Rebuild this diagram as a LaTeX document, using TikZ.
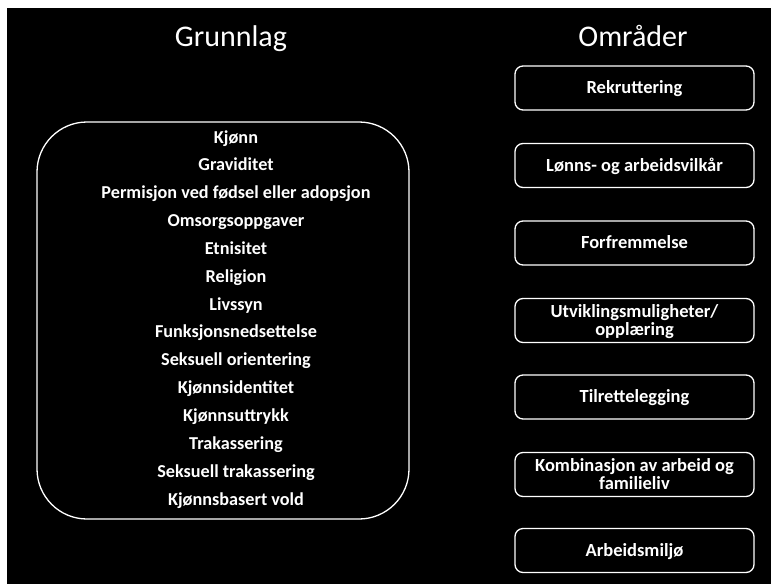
\documentclass[tikz,border=0pt]{standalone}
\usepackage{fontspec}
\setmainfont{Carlito}
\begin{document}
\begin{tikzpicture}[x=1pt,y=-1pt,
  title/.style={text=white, font=\fontsize{30}{36}\selectfont, anchor=base, inner sep=0pt},
  item/.style={text=white, font=\bfseries\fontsize{18.2}{21}\selectfont, anchor=base, inner sep=0pt},
  bigbox/.style={draw=white, line width=1.3pt, rounded corners=50pt, minimum width=372pt, minimum height=397pt, inner sep=0pt},
  areabox/.style={draw=white, line width=1.3pt, rounded corners=8pt, minimum width=239pt, minimum height=44pt,
    text=white, font=\bfseries\fontsize{18.5}{18}\selectfont, align=center, text height=11.9pt, text depth=0pt, inner sep=0pt},
  twoline/.style={text height=29.9pt}]
\useasboundingbox (0,0) rectangle (771,584);
\fill[white] (0,0) rectangle (771,584);
\fill[black] (7,8) rectangle (771,584);
\node[title] (tg) at (231,46) {Grunnlag};
\node[title] (to) at (633,46) {Områder};
\node[bigbox] (box) at (223,320.5) {};
\foreach \t [count=\i] in {Kjønn, Graviditet, Permisjon ved fødsel eller adopsjon, Omsorgsoppgaver, Etnisitet, Religion, Livssyn, Funksjonsnedsettelse, Seksuell orientering, Kjønnsidentitet, Kjønnsuttrykk, Trakassering, Seksuell trakassering, Kjønnsbasert vold}
  \node[item] (g\i) at (236,{143+27.85*(\i-1)}) {\t};
\node[areabox] (a1) at (634.5,88) {Rekruttering};
\node[areabox] (a2) at (634.5,165.5) {Lønns- og arbeidsvilkår};
\node[areabox] (a3) at (634.5,243) {Forfremmelse};
\node[areabox, twoline] (a4) at (634.5,320.5) {Utviklingsmuligheter/\\opplæring};
\node[areabox] (a5) at (634.5,397) {Tilrettelegging};
\node[areabox, twoline] (a6) at (634.5,474.5) {Kombinasjon av arbeid og\\familieliv};
\node[areabox] (a7) at (634.5,550.5) {Arbeidsmiljø};
\end{tikzpicture}
\end{document}
